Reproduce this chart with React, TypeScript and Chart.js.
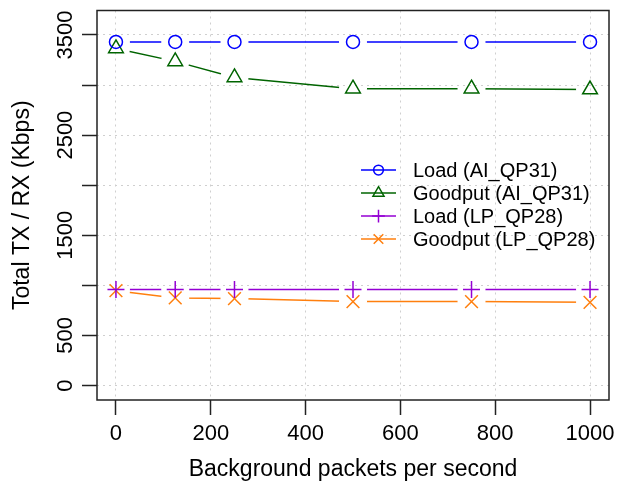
import React, { useEffect, useRef } from 'react';
import { Chart, registerables } from 'chart.js';

Chart.register(...registerables);

// ---- data ----
const packets = [0, 125, 250, 500, 750, 1000];
const loadAI = [3430, 3430, 3430, 3430, 3430, 3430];
const goodputAI = [3365, 3236, 3076, 2963, 2963, 2955];
const loadLP = [960, 960, 960, 960, 960, 960];
const goodputLP = [947, 875, 868, 838, 838, 831];

const seriesNames = ['Load (AI_QP31)', 'Goodput (AI_QP31)', 'Load (LP_QP28)', 'Goodput (LP_QP28)'];
const seriesColors = ['#0000ff', '#006400', '#9400d3', '#ff7f0e'];
const seriesStyles = ['circle', 'triangle', 'cross', 'crossRot'];
const seriesRadius = [6.5, 8.5, 8.5, 9];
const seriesValues = [loadAI, goodputAI, loadLP, goodputLP];

const xTicks = [0, 200, 400, 600, 800, 1000];
const yTicks = [0, 500, 1000, 1500, 2000, 2500, 3000, 3500];
const yTickLabels = ['0', '500', '', '1500', '', '2500', '', '3500'];

const xTitle = 'Background packets per second';
const yTitle = 'Total TX / RX (Kbps)';

const FONT = "'Liberation Sans', Arial, Helvetica, sans-serif";

function drawMarker(ctx: CanvasRenderingContext2D, style: string, x: number, y: number, r: number) {
  ctx.beginPath();
  if (style === 'circle') {
    ctx.arc(x, y, r, 0, Math.PI * 2);
  } else if (style === 'triangle') {
    const h = r * Math.sqrt(3) / 2;
    ctx.moveTo(x, y - r);
    ctx.lineTo(x + h, y + r / 2);
    ctx.lineTo(x - h, y + r / 2);
    ctx.closePath();
  } else if (style === 'cross') {
    ctx.moveTo(x - r, y); ctx.lineTo(x + r, y);
    ctx.moveTo(x, y - r); ctx.lineTo(x, y + r);
  } else {
    const d = r * Math.SQRT1_2;
    ctx.moveTo(x - d, y - d); ctx.lineTo(x + d, y + d);
    ctx.moveTo(x - d, y + d); ctx.lineTo(x + d, y - d);
  }
  ctx.stroke();
}

const gapPlugin = {
  id: 'gapClip',
  beforeDatasetDraw(chart: any, args: any) {
    const ds = chart.data.datasets[args.index];
    if (!ds.gapClip) return;
    const ctx = chart.ctx;
    ctx.save();
    ctx.beginPath();
    ctx.rect(0, 0, chart.width, chart.height);
    const gap = 14;
    for (const el of args.meta.data) {
      ctx.moveTo(el.x + gap, el.y);
      ctx.arc(el.x, el.y, gap, 0, Math.PI * 2);
    }
    ctx.clip('evenodd');
  },
  afterDatasetDraw(chart: any, args: any) {
    const ds = chart.data.datasets[args.index];
    if (!ds.gapClip) return;
    chart.ctx.restore();
  },
};

const decorPlugin = {
  id: 'decor',
  afterDraw(chart: any) {
    const ctx: CanvasRenderingContext2D = chart.ctx;
    const { left, right, top, bottom } = chart.chartArea;
    // box
    ctx.save();
    ctx.strokeStyle = '#222';
    ctx.lineWidth = 1.5;
    ctx.strokeRect(left, top, right - left, bottom - top);
    // rotated y tick labels
    const yScale = chart.scales.y;
    ctx.fillStyle = '#000';
    ctx.font = `22px ${FONT}`;
    ctx.textAlign = 'center';
    ctx.textBaseline = 'alphabetic';
    yTicks.forEach((v, i) => {
      const lab = yTickLabels[i];
      if (!lab) return;
      const py = yScale.getPixelForValue(v);
      ctx.save();
      ctx.translate(left - 25, py);
      ctx.rotate(-Math.PI / 2);
      ctx.fillText(lab, 0, 0);
      ctx.restore();
    });
    // legend
    const lx0 = 361, lx1 = 396, mx = 378.5, tx = 413;
    const rowY = [170, 193, 216, 239];
    ctx.font = `20px ${FONT}`;
    ctx.textAlign = 'left';
    ctx.textBaseline = 'middle';
    seriesNames.forEach((name, i) => {
      const y = rowY[i];
      ctx.strokeStyle = seriesColors[i];
      ctx.lineWidth = 1.5;
      ctx.beginPath();
      ctx.moveTo(lx0, y); ctx.lineTo(lx1, y);
      ctx.stroke();
      drawMarker(ctx, seriesStyles[i], mx, y, seriesRadius[i] * 0.75);
      ctx.fillStyle = '#000';
      ctx.fillText(name, tx, y + 1);
    });
    ctx.restore();
  },
};

export default function App() {
  const ref = useRef<HTMLCanvasElement>(null);
  useEffect(() => {
    if (!ref.current) return;
    Chart.defaults.font.family = FONT;
    const datasets: any[] = [];
    seriesValues.forEach((vals, i) => {
      datasets.push({
        label: seriesNames[i] + ' line',
        data: packets.map((p, j) => ({ x: p, y: vals[j] })),
        borderColor: seriesColors[i],
        borderWidth: 1.5,
        pointRadius: 0,
        fill: false,
        tension: 0,
        gapClip: true,
        order: i * 2 + 1,
      });
      datasets.push({
        label: seriesNames[i],
        data: packets.map((p, j) => ({ x: p, y: vals[j] })),
        borderColor: seriesColors[i],
        backgroundColor: 'rgba(0,0,0,0)',
        pointBorderColor: seriesColors[i],
        pointBackgroundColor: 'rgba(0,0,0,0)',
        pointBorderWidth: 1.5,
        pointStyle: seriesStyles[i],
        pointRadius: seriesRadius[i],
        showLine: false,
        order: i * 2,
      });
    });
    const chart = new Chart(ref.current, {
      type: 'line',
      data: { datasets },
      plugins: [gapPlugin, decorPlugin],
      options: {
        animation: false,
        responsive: false,
        layout: { padding: { top: 9, right: 23, left: 0, bottom: 0 } },
        plugins: { legend: { display: false }, tooltip: { enabled: false } },
        scales: {
          x: {
            type: 'linear',
            min: -40,
            max: 1040,
            afterBuildTicks: (s: any) => { s.ticks = xTicks.map((v) => ({ value: v })); },
            afterFit: (s: any) => { s.height = 88; s.paddingLeft = 0; s.paddingRight = 0; },
            ticks: {
              autoSkip: false,
              maxRotation: 0,
              minRotation: 0,
              padding: 6,
              color: '#000',
              font: { size: 22, family: FONT },
              callback: (v: any) => String(v),
            },
            grid: {
              color: '#cfcfcf',
              lineWidth: 1,
              drawTicks: true,
              tickLength: 15,
              tickColor: '#222',
              tickWidth: 1.5,
            },
            border: { display: false, dash: [2, 4] },
            title: {
              display: true,
              text: xTitle,
              color: '#000',
              font: { size: 23, family: FONT, lineHeight: 1.2 },
              padding: { top: 0, bottom: 5 },
            },
          },
          y: {
            type: 'linear',
            min: -144,
            max: 3744,
            afterBuildTicks: (s: any) => { s.ticks = yTicks.map((v) => ({ value: v })); },
            afterFit: (s: any) => { s.width = 97; s.paddingTop = 0; s.paddingBottom = 0; },
            ticks: { display: false },
            grid: {
              color: '#cfcfcf',
              lineWidth: 1,
              drawTicks: true,
              tickLength: 15,
              tickColor: '#222',
              tickWidth: 1.5,
            },
            border: { display: false, dash: [2, 4] },
            title: {
              display: true,
              text: yTitle,
              color: '#000',
              font: { size: 23, family: FONT, lineHeight: 1.2 },
              padding: { top: 9, bottom: 0 },
            },
          },
        },
      } as any,
    });
    return () => chart.destroy();
  }, []);
  return (
    <div style={{ position: 'fixed', left: 0, top: 0, width: 632, height: 488, background: '#fff' }}>
      <canvas ref={ref} width={632} height={488} style={{ display: 'block' }} />
    </div>
  );
}
